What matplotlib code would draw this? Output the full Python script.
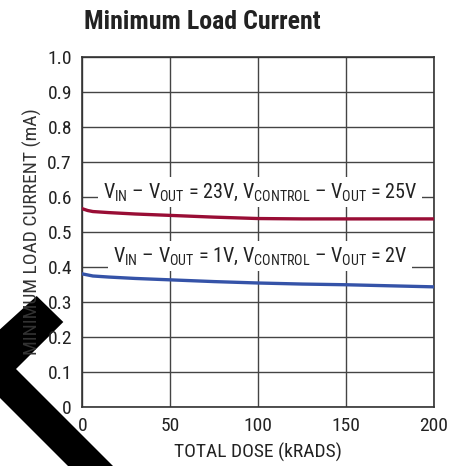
import matplotlib
matplotlib.use('Agg')
import matplotlib.pyplot as plt
from matplotlib.patches import Polygon

plt.rcParams['font.family'] = ['Roboto Condensed', 'DejaVu Sans']
plt.rcParams['mathtext.fontset'] = 'custom'
plt.rcParams['mathtext.rm'] = 'Roboto Condensed'

# data
dose_high = [0, 3, 6, 15, 30, 50, 75, 100, 125, 150, 200]
i_high = [0.566, 0.561, 0.558, 0.555, 0.551, 0.547, 0.542, 0.538, 0.537, 0.537, 0.537]
dose_low = [0, 3, 6, 15, 30, 50, 75, 100, 125, 150, 175, 200]
i_low = [0.380, 0.377, 0.374, 0.371, 0.367, 0.363, 0.358, 0.354, 0.351, 0.349, 0.346, 0.343]

label_high = r'V$_{\mathregular{IN}}$ – V$_{\mathregular{OUT}}$ = 23V, V$_{\mathregular{CONTROL}}$ – V$_{\mathregular{OUT}}$ = 25V'
label_low = r'V$_{\mathregular{IN}}$ – V$_{\mathregular{OUT}}$ = 1V, V$_{\mathregular{CONTROL}}$ – V$_{\mathregular{OUT}}$ = 2V'

xticks = [0, 50, 100, 150, 200]
yticks = [0, 0.1, 0.2, 0.3, 0.4, 0.5, 0.6, 0.7, 0.8, 0.9, 1.0]
ytick_labels = ['0', '0.1', '0.2', '0.3', '0.4', '0.5', '0.6', '0.7', '0.8', '0.9', '1.0']

fig = plt.figure(figsize=(4.6, 4.66), dpi=100)
ax = fig.add_axes([0.179, 0.1266, 0.7646, 0.7517])
ax.patch.set_alpha(0)

ax.plot(dose_high, i_high, color='#990d35', lw=2.4, zorder=3)
ax.plot(dose_low, i_low, color='#3553a8', lw=2.4, zorder=3)

ax.set_xlim(0, 200)
ax.set_ylim(0, 1.0)
ax.set_xticks(xticks)
ax.set_yticks(yticks)
ax.set_yticklabels(ytick_labels)
ax.tick_params(length=0, labelsize=14, colors='#222222', pad=7.5)
ax.grid(True, color='#444444', lw=1.0)
for s in ax.spines.values():
    s.set_color('#333333')
    s.set_linewidth(1.2)

box = dict(facecolor='white', edgecolor='none', pad=3)
ax.text(101, 0.613, label_high, ha='center', va='center', fontsize=14.5, color='#222222', bbox=box, zorder=4)
ax.text(101, 0.43, label_low, ha='center', va='center', fontsize=14.5, color='#222222', bbox=box, zorder=4)

ax.set_xlabel('TOTAL DOSE (kRADS)', fontsize=14, color='#222222', labelpad=5)
ax.set_ylabel('MINIMUM LOAD CURRENT (mA)', fontsize=14, color='#333333', labelpad=4)
fig.text(84 / 460, 1 - 22 / 466, 'Minimum Load Current', fontsize=18.6, fontweight='bold',
         color='#222222', ha='left', va='center')

# black chevron overlay seen in the reference (pixel coords, y down), behind the texts
chev = [(36.7, 296), (63.3, 322), (16, 369), (113, 466), (68, 466), (-36, 362)]
poly = Polygon([(x / 460, 1 - y / 466) for x, y in chev], closed=True,
               transform=fig.transFigure, facecolor='black', edgecolor='none', zorder=-1)
fig.patches.append(poly)

fig.savefig('out.png', dpi=100)
